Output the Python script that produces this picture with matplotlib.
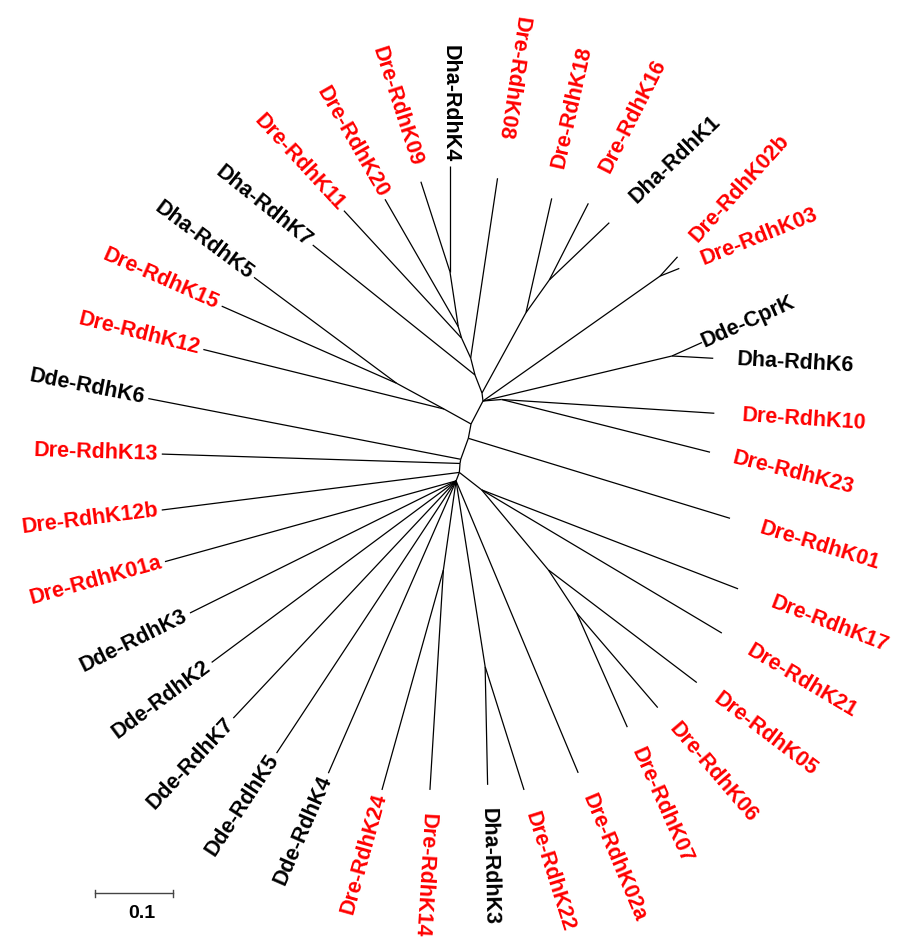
import numpy as np
import matplotlib
matplotlib.use("Agg")
import matplotlib.pyplot as plt

# Unrooted RdhK tree, drawn radially from the first node.
# Each entry: node, its parent, branch length (substitutions/site), branch angle (deg)
node_names = [
    "u0", "u1", "u2", "Dha-RdhK7", "Dre-RdhK08", "u3", "Dre-RdhK11", "u4",
    "Dre-RdhK20", "u5", "Dha-RdhK4", "Dre-RdhK09",
    "q1", "Dre-RdhK18", "q2", "Dre-RdhK16", "Dha-RdhK1",
    "r0", "p1", "Dre-RdhK02b", "Dre-RdhK03", "c1", "Dde-CprK", "Dha-RdhK6",
    "t1", "Dre-RdhK10", "Dre-RdhK23",
    "s1", "n1", "Dre-RdhK12", "n2", "Dha-RdhK5", "Dre-RdhK15",
    "s2", "Dre-RdhK01", "s3", "Dde-RdhK6", "s4", "Dre-RdhK13", "s5",
    "Dre-RdhK12b", "b1", "Dre-RdhK17", "Dre-RdhK21", "b2", "Dre-RdhK05",
    "b3", "Dre-RdhK06", "Dre-RdhK07",
    "l0", "Dre-RdhK01a", "Dde-RdhK3", "Dde-RdhK2", "Dde-RdhK7", "Dde-RdhK5",
    "Dde-RdhK4", "m1", "Dre-RdhK24", "Dre-RdhK14", "m2", "Dha-RdhK3",
    "Dre-RdhK22", "Dre-RdhK02a",
]
node_parents = [
    None, "u0", "u1", "u1", "u2", "u2", "u3", "u3",
    "u4", "u4", "u5", "u5",
    "u0", "q1", "q1", "q2", "q2",
    "u0", "r0", "p1", "p1", "r0", "c1", "c1",
    "r0", "t1", "t1",
    "r0", "s1", "n1", "n1", "n2", "n2",
    "s1", "s2", "s2", "s3", "s3", "s4", "s4",
    "s5", "s5", "b1", "b1", "b1", "b2",
    "b2", "b3", "b3",
    "s5", "l0", "l0", "l0", "l0", "l0",
    "l0", "l0", "m1", "m1", "l0", "m2",
    "m2", "l0",
]
branch_lengths = [
    0.0, 0.0247, 0.0224, 0.2655, 0.2321, 0.0277, 0.2217, 0.0154,
    0.1877, 0.0710, 0.1350, 0.1208,
    0.1169, 0.1497, 0.0513, 0.1099, 0.1060,
    0.0103, 0.2767, 0.0333, 0.0265, 0.2481, 0.0420, 0.0528,
    0.0240, 0.2721, 0.2744,
    0.0331, 0.0394, 0.3167, 0.0688, 0.2270, 0.2443,
    0.0186, 0.3495, 0.0285, 0.4065, 0.0054, 0.3811, 0.0115,
    0.3831, 0.0363, 0.3509, 0.3570, 0.1329, 0.2380,
    0.0661, 0.1589, 0.1593,
    0.0116, 0.3858, 0.3794, 0.3888, 0.4156, 0.4164,
    0.4074, 0.1148, 0.2918, 0.2815, 0.2400, 0.1511,
    0.1652, 0.4042,
]
branch_angles = [
    0.0, 111.3, 104.2, 141.3, 81.5, 114.6, 132.7, 106.3,
    119.9, 98.6, 90.0, 107.9,
    61.3, 77.3, 54.5, 63.0, 43.7,
    -82.9, 35.2, 47.8, 21.8, 13.4, 24.2, -3.2,
    4.6, -3.7, -14.2,
    -117.5, 151.0, 166.1, 151.5, 143.4, 156.2,
    -100.7, -17.0, -109.9, 169.0, -99.5, 178.2, -94.4,
    -172.8, -38.0, -21.1, -30.8, -50.2, -37.2,
    -56.7, -49.4, -66.1,
    -111.2, -164.5, -153.6, -143.4, -133.2, -123.4,
    -113.6, -98.1, -105.6, -93.5, -81.1, -88.8,
    -72.5, -67.3,
]

scale_length = 0.1

# gap between a tip and its label (tree units); some labels sit further out
gap_right = 0.030
gap_left = 0.005
gap_extra = {
    "Dde-CprK": 0.001, "Dre-RdhK08": 0.050, "Dre-RdhK18": 0.040,
    "Dre-RdhK16": 0.045, "Dha-RdhK1": 0.042, "Dre-RdhK09": 0.022,
    "Dre-RdhK10": 0.036, "Dre-RdhK01": 0.040, "Dre-RdhK17": 0.046,
    "Dre-RdhK21": 0.040,
}

# node positions
pos = {}
for name, parent, length, ang in zip(node_names, node_parents, branch_lengths, branch_angles):
    if parent is None:
        pos[name] = np.array([0.0, 0.0])
        continue
    a = np.deg2rad(ang)
    pos[name] = pos[parent] + length * np.array([np.cos(a), np.sin(a)])

fig = plt.figure(figsize=(8.97, 9.43), dpi=100)
ax = fig.add_axes([0, 0, 1, 1])
unit = 783.0  # pixels per unit branch length
ax.set_xlim(-482 / unit, (897 - 482) / unit)
ax.set_ylim(-(943 - 393) / unit, 393 / unit)
ax.axis("off")

for name, parent in zip(node_names, node_parents):
    if parent is None:
        continue
    p, c = pos[parent], pos[name]
    ax.plot([p[0], c[0]], [p[1], c[1]], color="black", lw=0.9,
            solid_capstyle="butt")

# leaf labels
children = set(p for p in node_parents if p is not None)
for name, ang in zip(node_names, branch_angles):
    if name in children or name == "u0":
        continue
    a = np.deg2rad(ang)
    d = np.array([np.cos(a), np.sin(a)])
    color = "#ff0000" if name.startswith("Dre") else "black"
    if -95 < ang < 80:
        gap = gap_extra.get(name, gap_right)
        rot, ha = ang, "left"
    else:
        gap = gap_extra.get(name, gap_left)
        rot, ha = ang - 180 if ang > 0 else ang + 180, "right"
    xy = pos[name] + gap * d
    ax.text(xy[0], xy[1], name, rotation=rot, rotation_mode="anchor",
            ha=ha, va="center", fontsize=15.5, fontweight="bold",
            family="Liberation Sans", color=color)

# scale bar
sx0 = -387 / unit
sy = -500 / unit
tick = 3.5 / unit
ax.plot([sx0, sx0 + scale_length], [sy, sy], color="#444444", lw=1.0)
for xx in (sx0, sx0 + scale_length):
    ax.plot([xx, xx], [sy - tick, sy + tick], color="#444444", lw=1.0)
ax.text(sx0 + scale_length / 2 + 8 / unit, sy - 12 / unit, f"{scale_length}",
        ha="center", va="top", fontsize=14, fontweight="bold",
        family="Liberation Sans", color="black")

fig.savefig("out.png", dpi=100)
